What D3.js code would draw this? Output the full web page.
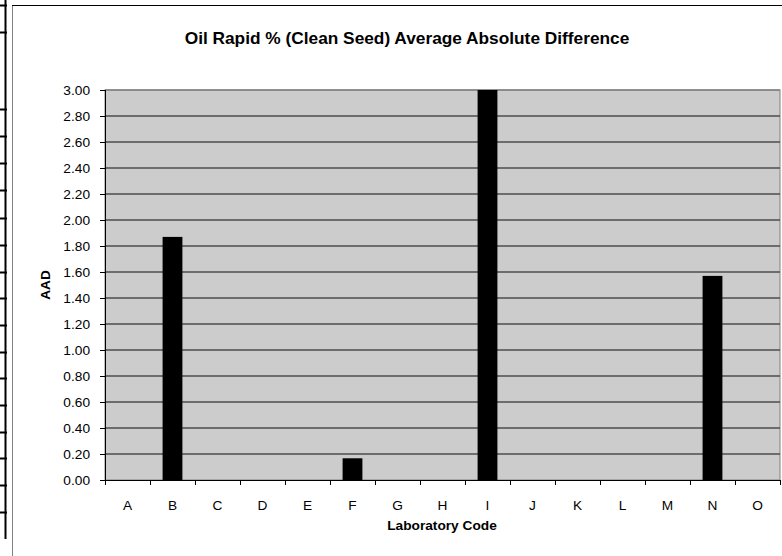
<!DOCTYPE html>
<html>
<head>
<meta charset="utf-8">
<script src="https://cdn.jsdelivr.net/npm/d3@7"></script>
<style>
  html, body { margin: 0; padding: 0; background: #fff; }
  svg { display: block; font-family: "Liberation Sans", Arial, sans-serif; }
</style>
</head>
<body>
<svg id="chart" width="782" height="556"></svg>
<script>
const categories = ["A","B","C","D","E","F","G","H","I","J","K","L","M","N","O"];
const values = [0, 1.87, 0, 0, 0, 0.167, 0, 0, 3.00, 0, 0, 0, 0, 1.57, 0];
const yTicks = [0,0.2,0.4,0.6,0.8,1.0,1.2,1.4,1.6,1.8,2.0,2.2,2.4,2.6,2.8,3.0];
const sheetRows = [5, 32, 109, 136, 163, 190, 218, 245, 272, 298, 325, 352, 378, 405, 432, 458, 485, 512];
const title = "Oil Rapid % (Clean Seed) Average Absolute Difference";
const xTitle = "Laboratory Code";
const yTitle = "AAD";

(function () {
const svg = d3.select("#chart");
const pLeft = 105, pRight = 780, pTop = 90, pBottom = 480;
const fs = 13.7;

// spreadsheet artifacts on the left edge
svg.append("line").attr("x1", 5.5).attr("x2", 5.5).attr("y1", 0).attr("y2", 539)
  .attr("stroke", "#000").attr("stroke-width", 2);
svg.selectAll("line.row").data(sheetRows).enter().append("line")
  .attr("x1", 0).attr("x2", 7).attr("y1", d => d + 0.5).attr("y2", d => d + 0.5)
  .attr("stroke", "#000").attr("stroke-width", 2);

// chart frame
svg.append("line").attr("x1", 12.5).attr("x2", 12.5).attr("y1", 5).attr("y2", 556)
  .attr("stroke", "#808080").attr("stroke-width", 1);
svg.append("line").attr("x1", 12).attr("x2", 782).attr("y1", 5.5).attr("y2", 5.5)
  .attr("stroke", "#000").attr("stroke-width", 1);

const x = d3.scaleBand().domain(categories).range([pLeft, pRight]).paddingInner(0.56).paddingOuter(0.28);
const xb = d3.scaleBand().domain(categories).range([pLeft, pRight]);
const y = d3.scaleLinear().domain([0, 3]).range([pBottom, pTop]);

// plot area
svg.append("rect").attr("x", pLeft).attr("y", pTop).attr("width", pRight - pLeft).attr("height", pBottom - pTop)
  .attr("fill", "#cccccc").attr("stroke", "#808080").attr("stroke-width", 1);

// gridlines
svg.append("g").selectAll("line").data(yTicks.filter(d => d > 0 && d < 3)).enter().append("line")
  .attr("x1", pLeft).attr("x2", pRight).attr("y1", d => y(d)).attr("y2", d => y(d))
  .attr("stroke", "#4d4d4d").attr("stroke-width", 1.3);
svg.append("line").attr("x1", pLeft).attr("x2", pRight).attr("y1", y(3)).attr("y2", y(3))
  .attr("stroke", "#808080").attr("stroke-width", 1.3);

// bars
svg.append("g").selectAll("rect").data(values).enter().append("rect")
  .attr("x", (d, i) => x(categories[i]))
  .attr("width", x.bandwidth())
  .attr("y", d => y(d))
  .attr("height", d => y(0) - y(d))
  .attr("fill", "#000");

// y axis
const yAxis = d3.axisLeft(y).tickValues(yTicks).tickFormat(d3.format(".2f")).tickSize(5).tickPadding(10);
const gy = svg.append("g").attr("transform", `translate(${pLeft},0)`).call(yAxis);
gy.select(".domain").attr("stroke", "#000").attr("d", `M0.5,${pTop}V${pBottom}`);
gy.selectAll(".tick line").attr("stroke", "#000");
gy.selectAll("text").attr("font-size", fs).attr("fill", "#000").attr("font-family", "Liberation Sans, Arial, sans-serif");

// x axis
const gx = svg.append("g").attr("transform", `translate(0,${pBottom})`);
gx.append("line").attr("x1", pLeft).attr("x2", pRight).attr("y1", 0.5).attr("y2", 0.5).attr("stroke", "#000");
const bounds = categories.map(c => xb(c)).concat([pRight]);
gx.selectAll("line.t").data(bounds).enter().append("line")
  .attr("x1", d => d + 0.5).attr("x2", d => d + 0.5).attr("y1", 0).attr("y2", 5).attr("stroke", "#000");
gx.selectAll("text").data(categories).enter().append("text")
  .attr("x", d => xb(d) + xb.bandwidth() / 2).attr("y", 30)
  .attr("text-anchor", "middle").attr("font-size", fs).attr("fill", "#000").text(d => d);

// titles
svg.append("text").attr("x", 407).attr("y", 44).attr("text-anchor", "middle")
  .attr("font-size", 17.3).attr("font-weight", "bold").text(title);
svg.append("text").attr("x", 442).attr("y", 530).attr("text-anchor", "middle")
  .attr("font-size", fs).attr("font-weight", "bold").text(xTitle);
svg.append("text").attr("transform", `translate(50,${(pTop + pBottom) / 2}) rotate(-90)`)
  .attr("text-anchor", "middle").attr("font-size", fs).attr("font-weight", "bold").text(yTitle);
})();
</script>
</body>
</html>
